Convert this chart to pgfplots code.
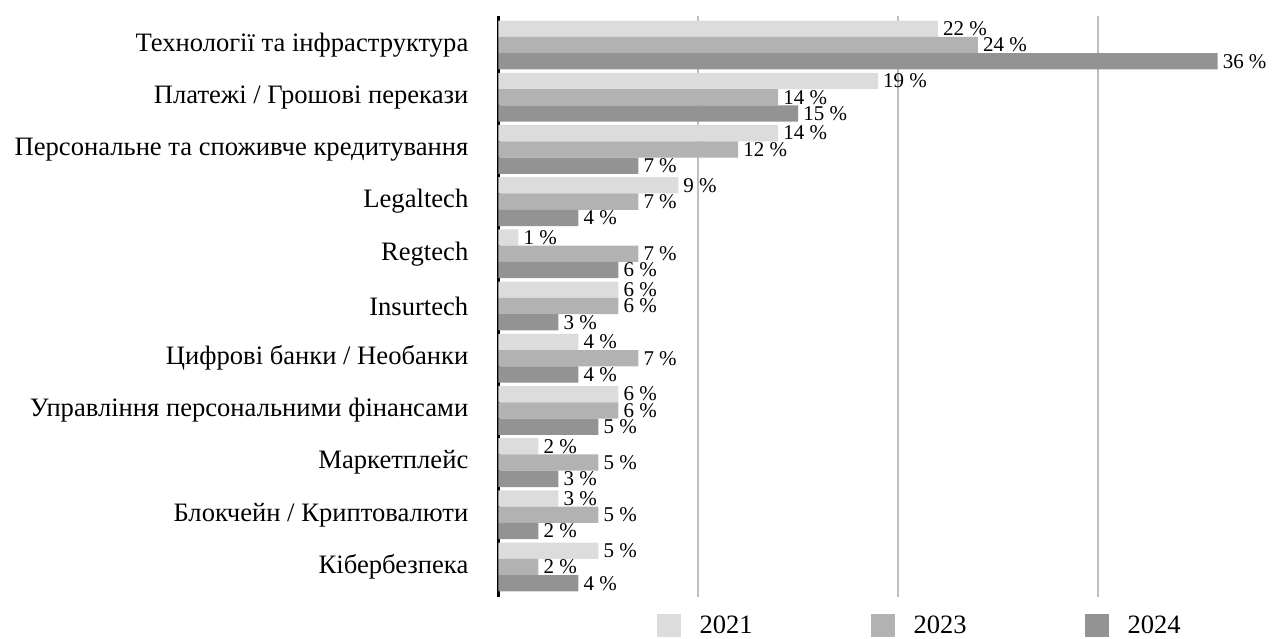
\documentclass[border=0pt]{standalone}
\usepackage{fontspec}
\setmainfont{Liberation Serif}
\usepackage{pgfplots}
\pgfplotsset{compat=1.18}

\definecolor{cA}{HTML}{DCDCDC}
\definecolor{cB}{HTML}{B2B2B2}
\definecolor{cC}{HTML}{939393}

\begin{document}
\begin{tikzpicture}
\useasboundingbox (-498.5pt,-42pt) rectangle (787.5pt,597pt);
\begin{axis}[
  at={(0pt,0pt)}, anchor=south west,
  scale only axis, width=779pt, height=581pt,
  xbar, bar width=0.312,
  xmin=0, xmax=39, ymin=-0.556, ymax=10.575, y dir=reverse,
  axis lines*=left,
  x axis line style={draw=none},
  y axis line style={line width=3pt, black, -},
  xtick={10,20,30}, xticklabels={},
  xmajorgrids, grid style={line width=2pt, color=black!25},
  major tick length=0pt,
  ytick={0,...,10},
  yticklabels={Технології та інфраструктура, Платежі / Грошові перекази,
    Персональне та споживче кредитування, Legaltech, Regtech, Insurtech,
    Цифрові банки / Необанки, Управління персональними фінансами,
    Маркетплейс, Блокчейн / Криптовалюти, Кібербезпека},
  yticklabel style={font=\fontsize{26.6}{30}\selectfont, inner xsep=0pt, xshift=-30pt},
  /pgf/number format/assume math mode=true,
  point meta=x,
  nodes near coords={\pgfmathprintnumber{\pgfplotspointmeta}~\%},
  every node near coord/.append style={font=\fontsize{21}{24}\selectfont, inner sep=0pt, anchor=west, xshift=5pt},
  legend columns=3,
  legend style={draw=none, fill=none, inner sep=0pt,
    at={(axis description cs:0.2028,-0.0490)}, anchor=west,
    font=\fontsize{26.5}{30}\selectfont,
    /tikz/every odd column/.append style={column sep=17pt},
    /tikz/every even column/.append style={column sep=116pt}},
  legend image code/.code={\fill[#1,draw=none] (0pt,-11.5pt) rectangle (24pt,11.5pt);},
  clip=false,
]
\addplot[fill=cA, draw=none, bar shift=-0.312] coordinates {
  (22,0) (19,1) (14,2) (9,3) (1,4) (6,5) (4,6) (6,7) (2,8) (3,9) (5,10)};
\addplot[fill=cB, draw=none, bar shift=0] coordinates {
  (24,0) (14,1) (12,2) (7,3) (7,4) (6,5) (7,6) (6,7) (5,8) (5,9) (2,10)};
\addplot[fill=cC, draw=none, bar shift=0.312] coordinates {
  (36,0) (15,1) (7,2) (4,3) (6,4) (3,5) (4,6) (5,7) (3,8) (2,9) (4,10)};
\legend{2021, 2023, 2024}
\end{axis}
\end{tikzpicture}
\end{document}
